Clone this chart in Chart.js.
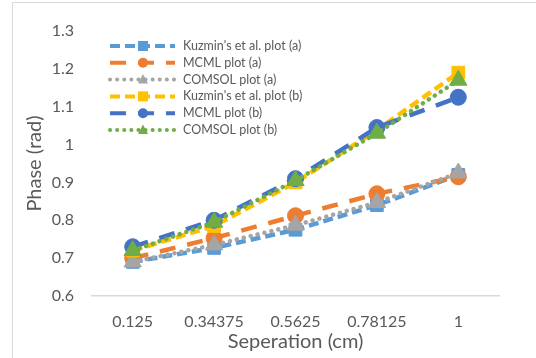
<!DOCTYPE html>
<html>
<head>
<meta charset="utf-8">
<script src="https://cdn.jsdelivr.net/npm/chart.js@4.4.0/dist/chart.umd.min.js"></script>
<style>
  body { margin: 0; background: #fff; }
  #wrap { position: relative; width: 536px; height: 358px; }
  #frame { position: absolute; left: 12px; top: 2px; width: 530px; height: 360px; border: 1px solid #d9d9d9; box-sizing: border-box; }
  canvas { position: absolute; left: 0; top: 0; }
</style>
</head>
<body>
<div id="wrap">
  <div id="frame"></div>
  <canvas id="chart" width="536" height="358"></canvas>
</div>
<script>
// Datos
const categorias = ['0.125', '0.34375', '0.5625', '0.78125', '1'];
const nombres = ["Kuzmin's et al. plot (a)", 'MCML plot (a)', 'COMSOL plot (a)',
                 "Kuzmin's et al. plot (b)", 'MCML plot (b)', 'COMSOL plot (b)'];
const kuzminA = [0.69, 0.727, 0.775, 0.84, 0.92];
const mcmlA   = [0.70, 0.753, 0.812, 0.87, 0.915];
const comsolA = [0.69, 0.735, 0.787, 0.847, 0.925];
const kuzminB = [0.72, 0.785, 0.90, 1.038, 1.19];
const mcmlB   = [0.73, 0.80, 0.91, 1.045, 1.125];
const comsolB = [0.72, 0.795, 0.905, 1.03, 1.17];

const colores = ['#5B9BD5', '#ED7D31', '#A5A5A5', '#FFC000', '#4472C4', '#70AD47'];
const guiones = [[10, 5], [16, 12], [0.1, 7], [10, 5], [16, 12], [0.1, 7]];
const marcas = ['rect', 'circle', 'triangle', 'rect', 'circle', 'triangle'];
const radios = [9, 8, 10, 9, 8, 10];
const series = [kuzminA, mcmlA, comsolA, kuzminB, mcmlB, comsolB];
const fuente = 'Lato, "Open Sans", sans-serif';

const datasets = series.map((d, i) => ({
  label: nombres[i],
  data: d,
  borderColor: colores[i],
  backgroundColor: colores[i],
  borderWidth: 4.5,
  borderDash: guiones[i],
  borderCapStyle: guiones[i][0] < 1 ? 'round' : 'butt',
  pointStyle: marcas[i],
  pointRadius: radios[i],
  pointBorderWidth: 1,
  tension: 0,
  order: 6 - i
}));

// Marca en la leyenda
function dibujarMarca(c, tipo, x, y, r) {
  c.beginPath();
  if (tipo === 'rect') {
    c.rect(x - r, y - r, 2 * r, 2 * r);
  } else if (tipo === 'circle') {
    c.arc(x, y, r, 0, Math.PI * 2);
  } else {
    c.moveTo(x, y - r * 1.1);
    c.lineTo(x + r, y + r * 0.8);
    c.lineTo(x - r, y + r * 0.8);
    c.closePath();
  }
  c.fill();
}

const leyenda = {
  id: 'leyenda',
  afterDraw(chart) {
    const c = chart.ctx;
    c.save();
    c.font = '12.5px ' + fuente;
    c.textBaseline = 'middle';
    nombres.forEach((n, i) => {
      const y = 46 + i * 16.8;
      c.strokeStyle = colores[i];
      c.fillStyle = colores[i];
      c.lineWidth = 4;
      c.setLineDash(guiones[i]);
      c.lineCap = guiones[i][0] < 1 ? 'round' : 'butt';
      c.beginPath();
      c.moveTo(110, y);
      c.lineTo(175, y);
      c.stroke();
      c.setLineDash([]);
      dibujarMarca(c, marcas[i], 143, y, 5);
      c.fillStyle = '#595959';
      c.fillText(n, 183, y);
    });
    c.restore();
  }
};

new Chart(document.getElementById('chart'), {
  type: 'line',
  data: { labels: categorias, datasets: datasets },
  plugins: [leyenda],
  options: {
    responsive: false,
    animation: false,
    layout: { padding: { left: 23, right: 37, top: 31, bottom: 4 } },
    plugins: { legend: { display: false }, tooltip: { enabled: false } },
    scales: {
      x: {
        offset: true,
        grid: { display: false, drawTicks: false },
        border: { color: '#d9d9d9', width: 1.5 },
        afterFit(s) { s.height = 58; },
        ticks: { color: '#595959', font: { size: 16, family: fuente }, padding: 16, maxRotation: 0 },
        title: { display: true, text: 'Seperation (cm)', color: '#595959', font: { size: 20, family: fuente }, padding: { top: 0, bottom: 0 } }
      },
      y: {
        min: 0.6, max: 1.3,
        grid: { display: false, drawTicks: false },
        border: { display: false },
        afterFit(s) { s.width = 69; },
        ticks: { stepSize: 0.1, color: '#595959', font: { size: 16, family: fuente }, padding: 18,
                 callback: v => Math.round(v * 10) / 10 },
        title: { display: true, text: 'Phase (rad)', color: '#595959', font: { size: 20, family: fuente }, padding: { top: 0, bottom: 4 } }
      }
    }
  }
});
</script>
</body>
</html>
